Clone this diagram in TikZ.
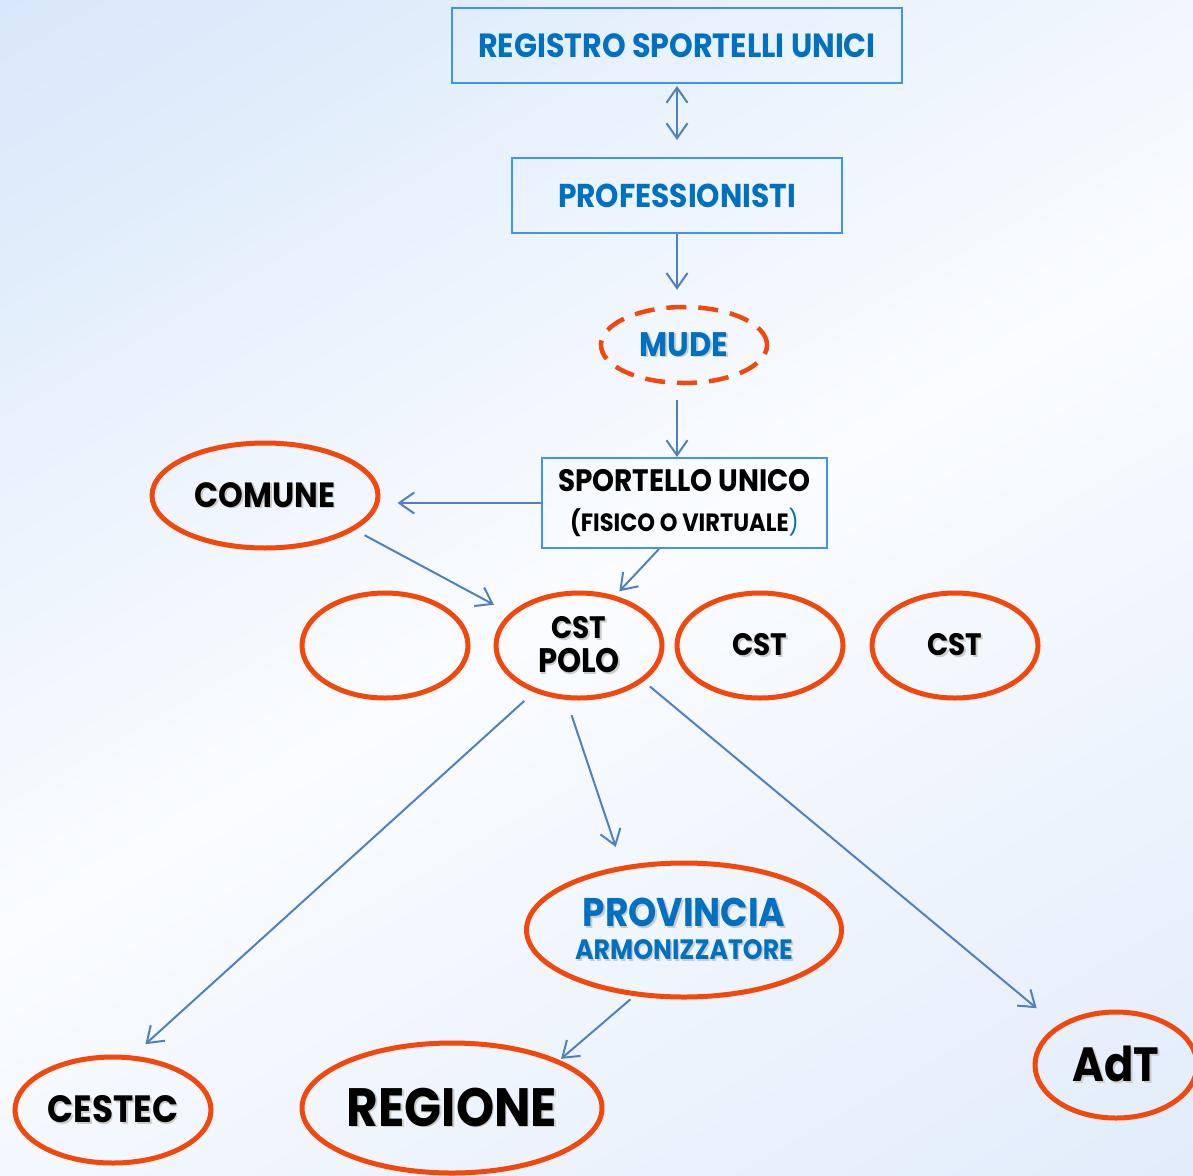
\documentclass[tikz,border=0pt]{standalone}
\usepackage{fontspec}
\setmainfont{Poppins}[FakeStretch=0.9]
\usetikzlibrary{shapes.geometric,arrows.meta}

\definecolor{txtblue}{RGB}{0,112,192}
\definecolor{boxblue}{RGB}{61,149,240}
\definecolor{arrowblue}{RGB}{79,129,189}
\definecolor{ringred}{RGB}{242,72,12}
\definecolor{bgtop}{RGB}{216,231,250}
\definecolor{bgmid}{RGB}{250,252,255}
\definecolor{bgbot}{RGB}{226,236,251}

% text with a soft drop shadow
\newcommand{\shadowed}[2][black]{\leavevmode\rlap{\hspace{1.6pt}\raisebox{-1.6pt}{\color{black!20}#2}}{\color{#1}#2}}
\newcommand{\fs}[1]{\fontsize{#1}{#1}\selectfont\bfseries}

\tikzset{
  box/.style={draw=boxblue, line width=2pt, inner sep=0pt, align=center},
  oval/.style={ellipse, draw=ringred, line width=5pt, inner sep=0pt, align=center},
  link/.style={draw=arrowblue, line width=2pt,
    -{Straight Barb[length=15pt,width=21pt]}},
}

\begin{document}
\begin{tikzpicture}[x=1pt,y=-1pt]
\useasboundingbox (0,0) rectangle (1193,1175);
\clip (0,0) rectangle (1193,1175);

% diagonal background gradient: blue top-left, white across the middle, blue bottom-right
\begin{scope}[shift={(596.5,587.5)}, rotate=30]
  \foreach \k in {0,...,119}{
    \pgfmathsetmacro\ua{-807+\k*13.45}
    \pgfmathsetmacro\ub{\ua+14.5}
    \pgfmathtruncatemacro\p{abs(100-(\k+0.5)*5/3)}
    \ifnum\k<60
      \colorlet{band}{bgtop!\p!bgmid}
    \else
      \colorlet{band}{bgbot!\p!bgmid}
    \fi
    \fill[band] (-1000,\ua) rectangle (1000,\ub);
  }
  \fill[bgtop] (-1000,-1100) rectangle (1000,-806);
  \fill[bgbot] (-1000,806) rectangle (1000,1100);
\end{scope}

% boxes
\node[box, minimum width=450pt, minimum height=75pt] (reg) at (677,45.5)
  {\color{txtblue}\fs{33.5}REGISTRO SPORTELLI UNICI};
\node[box, minimum width=330pt, minimum height=75pt] (prof) at (677,195.5)
  {\color{txtblue}\fs{33}PROFESSIONISTI};
\node[oval, dash pattern=on 20pt off 12pt, line width=4.5pt,
      minimum width=166pt, minimum height=76pt] (mude) at (684,345)
  {\fs{34}\shadowed[txtblue]{MUDE}};
\node[box, minimum width=285pt, minimum height=90pt] (sport) at (684.5,503)
  {\fs{31}SPORTELLO UNICO\\[16pt]\fs{25}(FISICO O VIRTUALE{\color{txtblue}\mdseries)}};

% ovals
\node[oval, minimum width=226pt, minimum height=105pt] (comune) at (265,495.5)
  {\fs{35}\shadowed{COMUNE}};
\node[oval, minimum width=166pt, minimum height=105pt] (blank) at (385,645.5) {};
\node[oval, minimum width=166pt, minimum height=105pt] (polo) at (579,645.5)
  {\fs{31}\shadowed{CST}\\[7pt]\fs{34}\shadowed{POLO}};
\node[oval, minimum width=166pt, minimum height=105pt] (cstA) at (760,645.5)
  {\fs{31}\shadowed{CST}};
\node[oval, minimum width=166pt, minimum height=105pt] (cstB) at (955,645.5)
  {\fs{31}\shadowed{CST}};
\node[oval, minimum width=315pt, minimum height=134pt] (prov) at (684,930)
  {\fs{40}\shadowed[txtblue]{PROVINCIA}\\[10pt]\fs{28}\shadowed[txtblue]{ARMONIZZATORE}};
\node[oval, minimum width=196pt, minimum height=106pt] (cestec) at (113,1110)
  {\fs{38}\shadowed{CESTEC}};
\node[oval, minimum width=300pt, minimum height=130pt] (regione) at (452,1108)
  {\fs{54}\shadowed{REGIONE}};
\node[oval, minimum width=162pt, minimum height=106pt] (adt) at (1116,1065)
  {\fs{48}\shadowed{AdT}};

% connectors
\draw[link, {Straight Barb[length=15pt,width=21pt]}-{Straight Barb[length=15pt,width=21pt]},
      shorten <=2pt, shorten >=17pt] (reg.south) -- (prof.north);
\draw[link, shorten >=15pt] (prof.south) -- (prof.south |- mude.north);
\draw[link, shorten <=15pt] (mude.south -| prof.south) -- (sport.north -| prof.south);
\draw[link, shorten >=17pt] (sport.west) -- (sport.west -| comune.east);
\draw[link, shorten <=11pt, shorten >=18pt] (comune.-21) -- (polo.155);
\draw[link, shorten >=6pt] (sport.-119) -- (polo.54);
\draw[link, shorten <=13pt, shorten >=17pt] (polo.-134) -- (cestec.70);
\draw[link, shorten <=16pt, shorten >=20pt] (polo.-103) -- (prov.134);
\draw[link, shorten <=8pt, shorten >=27pt] (polo.-29) -- (adt.146);
\draw[link, shorten <=5pt, shorten >=2pt] (prov.-127) -- (regione.24);
\end{tikzpicture}
\end{document}
